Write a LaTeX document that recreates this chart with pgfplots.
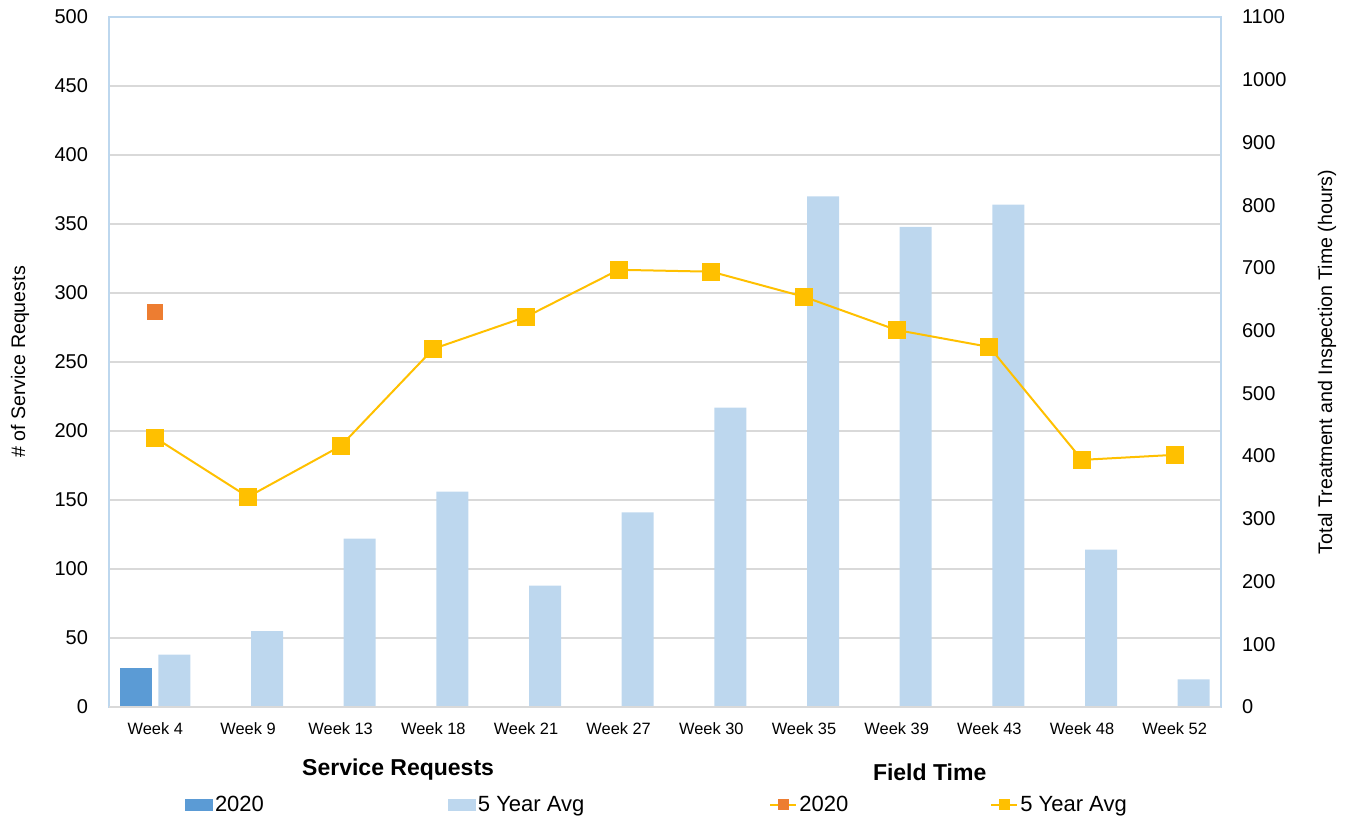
\documentclass[border=0pt]{standalone}
\usepackage{fontspec}
\setmainfont{Liberation Sans}
\usepackage{pgfplots}
\pgfplotsset{compat=1.18}
\definecolor{dblue}{HTML}{5B9BD5}
\definecolor{lblue}{HTML}{BDD7EE}
\definecolor{orng}{HTML}{ED7D31}
\definecolor{gold}{HTML}{FFC000}
\definecolor{framec}{HTML}{BDD7EE}
\definecolor{gridc}{HTML}{D9D9D9}
\begin{document}
\begin{tikzpicture}
\useasboundingbox (-54.5pt,-57pt) rectangle (619.5pt,353.5pt);
\begin{axis}[
  at={(0,0)}, anchor=south west,
  scale only axis, width=556pt, height=345pt,
  clip=false,
  xmin=-0.5, xmax=11.5, ymin=0, ymax=500,
  xtick={0,...,11},
  xticklabels={Week 4,Week 9,Week 13,Week 18,Week 21,Week 27,Week 30,Week 35,Week 39,Week 43,Week 48,Week 52},
  ytick={0,50,...,500},
  ymajorgrids, grid style={gridc, line width=0.6pt},
  major tick length=0pt,
  axis line style={framec, line width=0.7pt},
  /pgf/number format/assume math mode=true,
  yticklabel style={font=\fontsize{10}{12}\selectfont, xshift=-7pt},
  xticklabel style={font=\fontsize{8.2}{10}\selectfont, yshift=-4.5pt},
  ylabel={\# of Service Requests},
  every axis y label/.style={at={(axis description cs:-0.080,0.5)}, anchor=center, rotate=90, font=\fontsize{9.8}{11}\selectfont},
  legend columns=2,
  legend style={draw=none, fill=none, at={(axis description cs:0.068,-0.142)}, anchor=west,
    font=\fontsize{11}{13}\selectfont, inner sep=0pt, nodes={inner xsep=1pt, inner ysep=0pt},
    /tikz/every even column/.append style={column sep=91pt}},
  legend cell align=left,
  ybar, bar width=16pt,
]
\addplot[fill=dblue, draw=none, bar shift=-9.5pt,
  legend image code/.code={\fill[dblue] (0pt,-3pt) rectangle (14pt,3pt);}]
  coordinates {(0,28)};
\addplot[fill=lblue, draw=none, bar shift=9.5pt,
  legend image code/.code={\fill[lblue] (0pt,-3pt) rectangle (14pt,3pt);}]
  coordinates {(0,38) (1,55) (2,122) (3,156) (4,88) (5,141) (6,217) (7,370) (8,348) (9,364) (10,114) (11,20)};
\legend{2020, 5 Year Avg}
\draw[gridc, line width=0.8pt] (rel axis cs:0,0) -- (rel axis cs:1,0);
\node[font=\bfseries\fontsize{11.5}{13}\selectfont] at (rel axis cs:0.26,-0.0913) {Service Requests};
\node[font=\bfseries\fontsize{11.5}{13}\selectfont] at (rel axis cs:0.738,-0.094) {Field Time};
\end{axis}
\begin{axis}[
  at={(0,0)}, anchor=south west,
  scale only axis, width=556pt, height=345pt,
  xmin=-0.5, xmax=11.5, ymin=0, ymax=1100,
  axis y line*=right, axis x line=none,
  ytick={0,100,...,1100},
  major tick length=0pt,
  axis line style={framec, line width=0.7pt},
  /pgf/number format/assume math mode=true,
  /pgf/number format/1000 sep={},
  yticklabel style={font=\fontsize{10}{12}\selectfont, xshift=7pt},
  ylabel={Total Treatment and Inspection Time (hours)},
  every axis y label/.style={at={(axis description cs:1.0953,0.5)}, anchor=center, rotate=90, font=\fontsize{9.8}{11}\selectfont},
  legend columns=2,
  legend style={draw=none, fill=none, at={(axis description cs:0.5935,-0.142)}, anchor=west,
    font=\fontsize{11}{13}\selectfont, inner sep=0pt, nodes={inner xsep=1pt, inner ysep=0pt},
    /tikz/every even column/.append style={column sep=70pt}},
  legend cell align=left,
]
\addplot[gold, line width=1pt, mark=square*, mark size=3.5pt, mark options={fill=orng, draw=orng},
  legend image code/.code={\draw[gold,line width=1pt] (0pt,0pt) -- (13pt,0pt); \fill[orng] (4.25pt,-2.25pt) rectangle (8.75pt,2.25pt);}]
  coordinates {(0,630)};
\addplot[gold, line width=1pt, mark=square*, mark size=4pt, mark options={fill=gold, draw=gold},
  legend image code/.code={\draw[gold,line width=1pt] (0pt,0pt) -- (13pt,0pt); \fill[gold] (4.25pt,-2.25pt) rectangle (8.75pt,2.25pt);}]
  coordinates {(0,429) (1,335) (2,416) (3,571) (4,622) (5,697) (6,694) (7,654) (8,601) (9,574) (10,394) (11,402)};
\legend{2020, 5 Year Avg}
\end{axis}
\end{tikzpicture}
\end{document}
